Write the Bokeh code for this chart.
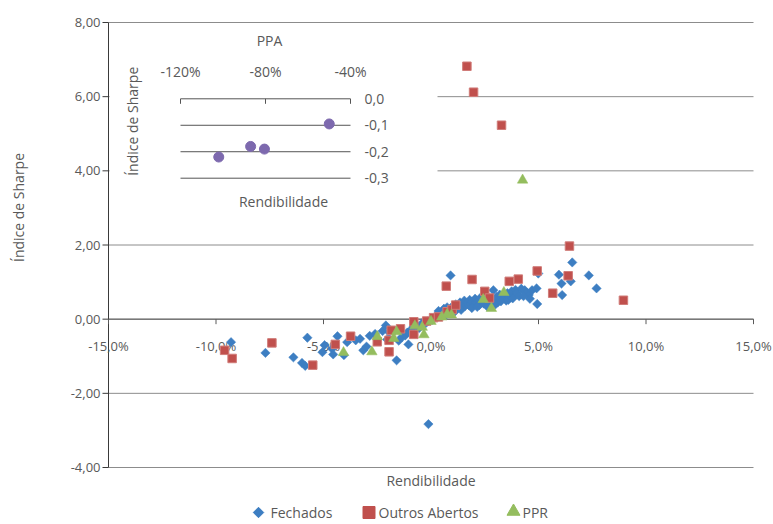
import math
from bokeh.plotting import figure
from bokeh.models import Range1d
from bokeh.core.properties import value
from bokeh.embed import file_html
from bokeh.resources import INLINE

# ---------------- data ----------------
fechados_x = [-9.3, -7.7, -6.4, -6.0, -5.85, -5.75, -5.05, -4.95, -4.6, -4.55,
              -4.35, -4.05, -3.9, -3.5, -3.3, -3.15, -3.0, -2.85, -2.6, -2.25,
              -2.1, -2.04, -1.95, -1.6, -1.5, -1.35, -1.2, -1.1, -1.05, -0.95,
              -0.8, -0.7, -0.55, -0.4, -0.3, -0.15, -0.12, 0.05, 0.15, 0.25,
              0.35, 0.45, 0.55, 0.6, 0.75, 0.8, 0.9, 0.91, 1.0, 1.05,
              1.15, 1.2, 1.3, 1.35, 1.45, 1.5, 1.55, 1.6, 1.7, 1.75,
              1.8, 1.85, 1.9, 2.0, 2.05, 2.1, 2.2, 2.25, 2.3, 2.4,
              2.45, 2.55, 2.6, 2.7, 2.8, 2.9, 2.95, 3.05, 3.1, 3.2,
              3.3, 3.4, 3.5, 3.55, 3.65, 3.75, 3.85, 3.93, 4.0, 4.1,
              4.2, 4.36, 4.45, 4.55, 4.6, 4.7, 4.91, 4.94, 4.99, 5.95,
              6.07, 6.1, 6.5, 6.57, 7.34, 7.7, 0.7, 1.1, 1.4, 1.9,
              2.15, 2.6, 3.0, 3.25, 3.6, 3.8, 4.3]
fechados_y = [-0.62, -0.91, -1.03, -1.18, -1.26, -0.50, -0.89, -0.70, -0.80, -0.95,
              -0.46, -0.97, -0.62, -0.57, -0.53, -0.84, -0.74, -0.45, -0.40, -0.32,
              -0.17, -0.55, -0.35, -1.11, -0.58, -0.48, -0.44, -0.36, -0.68, -0.30,
              -0.20, -0.16, -0.24, -0.10, -0.14, -0.06, -2.83, -0.02, 0.05, 0.10,
              0.22, 0.14, 0.18, 0.28, 0.32, 0.22, 0.26, 1.18, 0.35, 0.29,
              0.40, 0.31, 0.36, 0.45, 0.33, 0.42, 0.50, 0.36, 0.44, 0.38,
              0.52, 0.41, 0.47, 0.40, 0.55, 0.45, 0.50, 0.38, 0.58, 0.48,
              0.42, 0.52, 0.62, 0.47, 0.55, 0.78, 0.50, 0.60, 0.45, 0.66,
              0.55, 0.62, 0.50, 0.70, 0.60, 0.75, 0.65, 0.79, 0.70, 0.62,
              0.82, 0.78, 0.72, 0.65, 0.55, 0.78, 0.83, 0.41, 1.23, 1.20,
              0.96, 0.65, 1.02, 1.53, 1.18, 0.83, 0.12, 0.20, 0.25, 0.30,
              0.33, 0.35, 0.40, 0.48, 0.52, 0.56, 0.62]

outros_x = [-9.6, -9.25, -7.4, -5.5, -4.45, -3.74, -2.5, -1.95, -1.95, -1.85,
            -1.42, -0.8, -0.8, -0.2, 0.12, 0.35, 0.75, 0.98, 1.15, 0.71,
            1.91, 2.5, 2.72, 3.64, 4.06, 4.94, 5.66, 6.38, 6.44, 8.95,
            1.67, 1.98, 3.28]
outros_y = [-0.84, -1.06, -0.64, -1.24, -0.68, -0.46, -0.61, -0.88, -0.57, -0.30,
            -0.26, -0.41, -0.07, -0.05, 0.04, 0.06, 0.20, 0.26, 0.38, 0.89,
            1.07, 0.75, 0.57, 1.02, 1.08, 1.30, 0.70, 1.17, 1.97, 0.51,
            6.82, 6.12, 5.23]

ppr_x = [-4.07, -2.75, -2.5, -1.73, -1.6, -0.75, -0.41, -0.33, 0.0, 0.5,
         0.75, 0.95, 2.43, 2.81, 3.39, 4.26]
ppr_y = [-0.90, -0.88, -0.47, -0.52, -0.34, -0.18, -0.22, -0.42, -0.06, 0.06,
         0.13, 0.11, 0.53, 0.29, 0.72, 3.75]

ppa_x = [-50.0, -87.0, -80.5, -102.0]
ppa_y = [-0.095, -0.18, -0.19, -0.22]

series_names = ["Fechados", "Outros Abertos", "PPR"]

x_ticks = [-15, -10, -5, 0, 5, 10, 15]
x_tick_labels = ["-15,0%", "-10,0%", "-5,0%", "0,0%", "5,0%", "10,0%", "15,0%"]
y_ticks = [-4, -2, 0, 2, 4, 6, 8]
y_tick_labels = ["-4,00", "-2,00", "0,00", "2,00", "4,00", "6,00", "8,00"]

inset_x_ticks = [-120, -80, -40]
inset_x_labels = ["-120%", "-80%", "-40%"]
inset_y_ticks = [0.0, -0.1, -0.2, -0.3]
inset_y_labels = ["0,0", "-0,1", "-0,2", "-0,3"]

# ---------------- style / layout ----------------
FONT = "Open Sans"
TXT = "#595959"
BLUE, RED, GREEN, PURPLE = "#3D7EC2", "#C0504D", "#94BD5E", "#7D69AE"
GRID = "#8C8C8C"
AXIS = "#3A3A3A"
XAXIS = "#5A5A5A"
INSET_LINE = "#555555"

W, H = 773, 524
# main plot area: x -15..15 -> px 108..753, y 8..-4 -> px 22..467
X0, X1, Y_TOP, Y_BOT = -15, 15, 8, -4
PX_L, PX_R, PY_T, PY_B = 108, 753, 22, 467
ppx = (PX_R - PX_L) / (X1 - X0)
ppy = (PY_B - PY_T) / (Y_TOP - Y_BOT)

def px_x(px):
    return X0 + (px - PX_L) / ppx

def py_y(py):
    return Y_TOP - (py - PY_T) / ppy

p = figure(width=W, height=H, x_range=Range1d(px_x(0), px_x(W)), y_range=Range1d(py_y(H), py_y(0)),
           output_backend="svg", toolbar_location=None, x_axis_location=None, y_axis_location=None,
           min_border=0)
p.outline_line_color = None
p.background_fill_color = "white"
p.border_fill_color = "white"
p.grid.visible = False

# inset plot area: -120..-40 % -> px 180..350, 0.0..-0.3 -> px 98.3..177.7
ippx = (350 - 180) / 80
ippy = (177.7 - 98.3) / 0.3
ix0 = -120 - 180 / ippx
iy1 = 0.0 + 98.3 / ippy
p.extra_x_ranges = {"ix": Range1d(ix0, ix0 + W / ippx)}
p.extra_y_ranges = {"iy": Range1d(iy1 - H / ippy, iy1)}
ik = dict(x_range_name="ix", y_range_name="iy")

def tk(size):
    return dict(text_font=value(FONT), text_font_size=size, text_color=TXT)

# ---------------- main grid ----------------
p.segment(x0=X0, x1=X1, y0=y_ticks, y1=y_ticks, line_color=GRID, line_width=1)

# white background of the inset hides the main grid lines
p.quad(left=[X0 + 0.05], right=[px_x(437)], bottom=[py_y(215)], top=[py_y(29)],
       fill_color="white", line_color=None)

# ---------------- inset (PPA) ----------------
p.segment(x0=min(inset_x_ticks), x1=max(inset_x_ticks), y0=inset_y_ticks, y1=inset_y_ticks,
          line_color=INSET_LINE, line_width=1, **ik)
p.segment(x0=inset_x_ticks, x1=inset_x_ticks, y0=0.0, y1=-5 / ippy,
          line_color=INSET_LINE, line_width=1, **ik)
p.text(x=inset_x_ticks, y=0.0, text=inset_x_labels, y_offset=-27,
       text_align="center", text_baseline="middle", **tk("14px"), **ik)
p.text(x=max(inset_x_ticks), y=inset_y_ticks, text=inset_y_labels, x_offset=14,
       text_align="left", text_baseline="middle", **tk("14px"), **ik)
p.text(x=[-80], y=[0.0], text=["PPA"], x_offset=4, y_offset=-58,
       text_align="center", text_baseline="middle", **tk("14px"), **ik)
p.text(x=[-80], y=[-0.3], text=["Rendibilidade"], x_offset=18, y_offset=23,
       text_align="center", text_baseline="middle", **tk("14px"), **ik)
p.text(x=[-120], y=[-0.1], text=["Índice de Sharpe"], x_offset=-48, y_offset=-4,
       angle=math.pi / 2, text_align="center", text_baseline="middle", **tk("14px"), **ik)
p.scatter(ppa_x, ppa_y, size=10, fill_color=PURPLE, line_color=PURPLE, **ik)

# ---------------- main y axis ----------------
p.segment(x0=[X0], x1=[X0], y0=[Y_BOT], y1=[Y_TOP], line_color=AXIS, line_width=1)
p.segment(x0=X0 - 6 / ppx, x1=X0, y0=y_ticks, y1=y_ticks, line_color=AXIS, line_width=1)
p.text(x=X0, y=y_ticks, text=y_tick_labels, x_offset=-8,
       text_align="right", text_baseline="middle", **tk("13px"))

# ---------------- main x axis (crosses at y = 0) ----------------
p.segment(x0=[X0], x1=[X1], y0=[0], y1=[0], line_color=XAXIS, line_width=1)
p.segment(x0=x_ticks, x1=x_ticks, y0=0, y1=-5 / ppy, line_color=XAXIS, line_width=1)
p.text(x=x_ticks, y=0, text=x_tick_labels, y_offset=27,
       text_align="center", text_baseline="middle", **tk("13px"))

# ---------------- data series ----------------
p.scatter(fechados_x, fechados_y, marker="square", angle=math.pi / 4, size=6.6,
          fill_color=BLUE, line_color=BLUE, line_width=0.5)
p.scatter(outros_x, outros_y, marker="square", size=8.5,
          fill_color=RED, line_color="#D07C79", line_width=1)
p.scatter(ppr_x, ppr_y, marker="triangle", size=10.5,
          fill_color=GREEN, line_color=GREEN, line_width=0.5)

# ---------------- axis titles ----------------
p.text(x=[0], y=[Y_BOT], text=["Rendibilidade"], y_offset=13,
       text_align="center", text_baseline="middle", **tk("14px"))
p.text(x=[X0], y=[py_y(207)], text=["Índice de Sharpe"], x_offset=-90,
       angle=math.pi / 2, text_align="center", text_baseline="middle", **tk("14px"))

# ---------------- legend (bottom) ----------------
leg_marker_px = [258, 368.5, 513]
leg_text_px = [270, 378, 522]
leg_y = py_y(512)
p.scatter([px_x(leg_marker_px[0])], [leg_y], marker="square", angle=math.pi / 4, size=7.4,
          fill_color=BLUE, line_color=BLUE)
p.scatter([px_x(leg_marker_px[1])], [leg_y], marker="square", size=12,
          fill_color=RED, line_color=RED)
p.scatter([px_x(leg_marker_px[2])], [leg_y + 1 / ppy], marker="triangle", size=13,
          fill_color=GREEN, line_color=GREEN)
p.text(x=[px_x(v) for v in leg_text_px], y=[py_y(512)] * 3, text=series_names,
       text_align="left", text_baseline="middle", **tk("14px"))

open("out.html", "w").write(file_html(p, INLINE))
